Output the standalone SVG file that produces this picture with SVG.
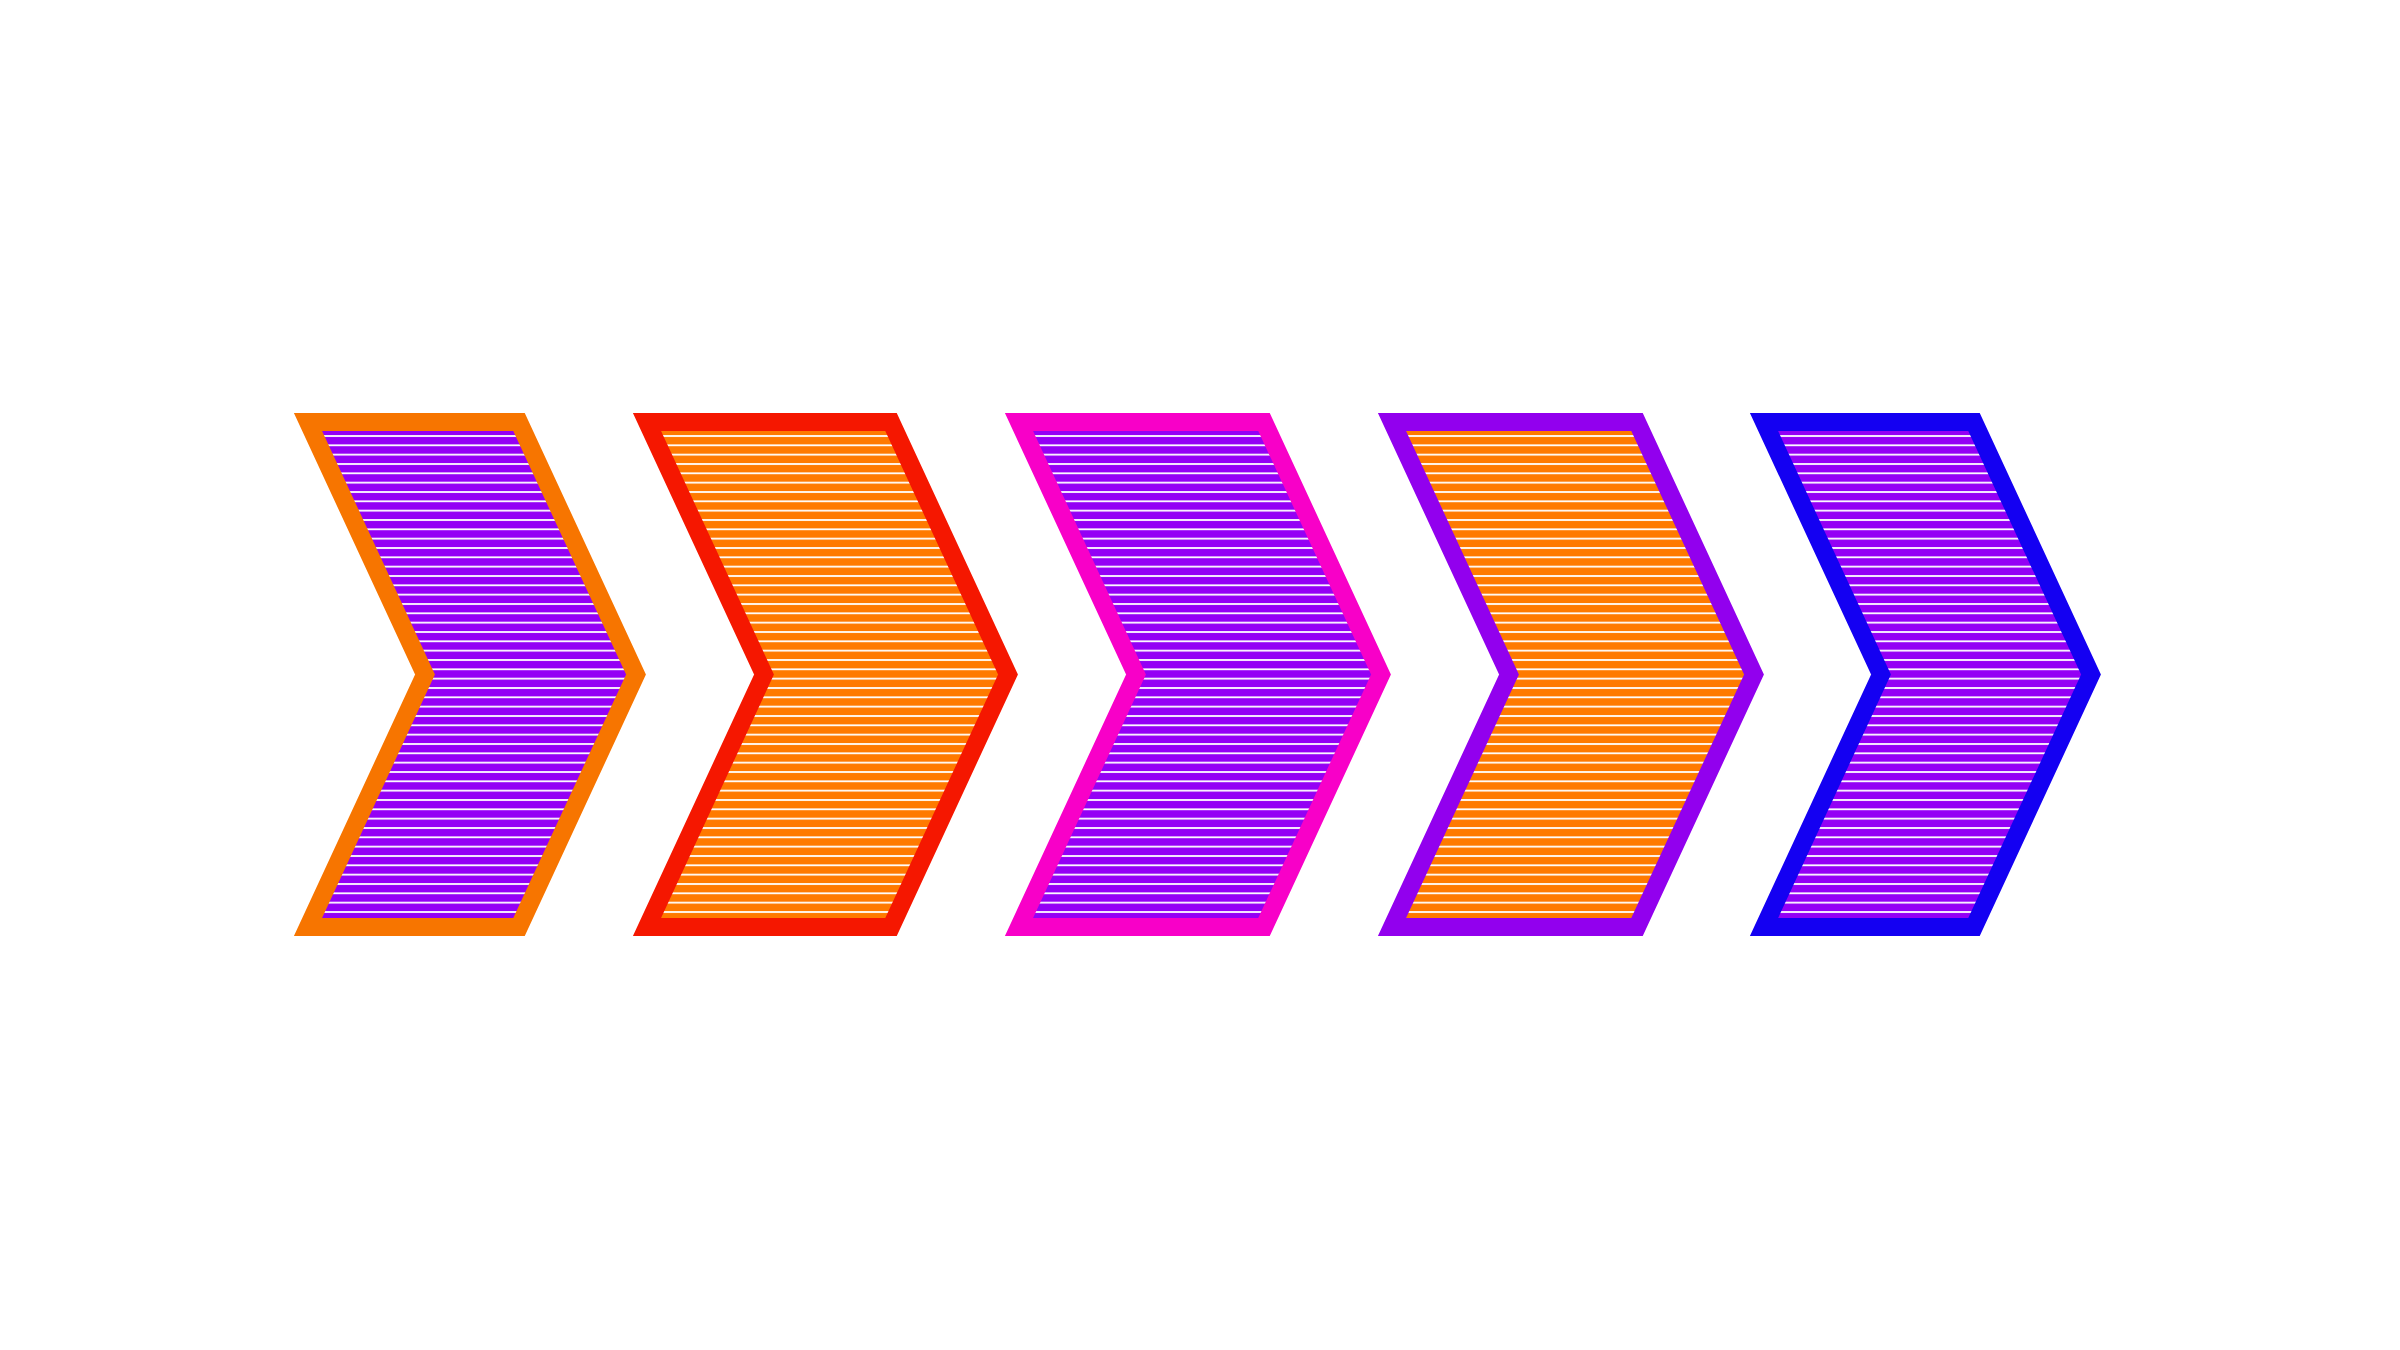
<svg xmlns="http://www.w3.org/2000/svg" width="2400" height="1350" viewBox="0 0 2400 1350">
  <defs>
    <pattern id="stripePurple" patternUnits="userSpaceOnUse" x="0" y="435" width="40" height="9.3333">
      <rect x="0" y="0" width="40" height="9.3333" fill="#9400F5"/>
      <rect x="0" y="0.1" width="40" height="1.8" fill="#FFFFFF"/>
    </pattern>
    <pattern id="stripeOrange" patternUnits="userSpaceOnUse" x="0" y="435" width="40" height="9.3333">
      <rect x="0" y="0" width="40" height="9.3333" fill="#FF7A00"/>
      <rect x="0" y="0.1" width="40" height="1.8" fill="#FFFFFF"/>
    </pattern>
  </defs>
  <style>
    .chev { stroke-width: 18; stroke-linejoin: miter; stroke-miterlimit: 10; }
    .fp { fill: url(#stripePurple); }
    .fo { fill: url(#stripeOrange); }
  </style>
  <rect x="0" y="0" width="2400" height="1350" fill="#FFFFFF"/>
  <g id="chevron-1">
    <polygon class="chev fp" stroke="#F77500" points="308,422 519,422 636,674.5 519,927 308,927 425,674.5"/>
  </g>
  <g id="chevron-2">
    <polygon class="chev fo" stroke="#F51700" points="647,422 891,422 1008,674.5 891,927 647,927 764,674.5"/>
  </g>
  <g id="chevron-3">
    <polygon class="chev fp" stroke="#F800C8" points="1019,422 1264,422 1381,674.5 1264,927 1019,927 1136,674.5"/>
  </g>
  <g id="chevron-4">
    <polygon class="chev fo" stroke="#9200EE" points="1392,422 1637,422 1754,674.5 1637,927 1392,927 1509,674.5"/>
  </g>
  <g id="chevron-5">
    <polygon class="chev fp" stroke="#1400F2" points="1764,422 1974,422 2091,674.5 1974,927 1764,927 1881,674.5"/>
  </g>
  <g id="connectors"></g>
</svg>
